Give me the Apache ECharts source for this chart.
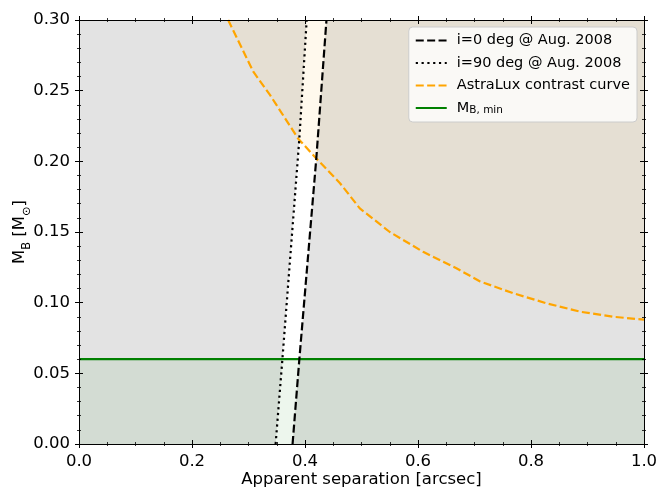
<!DOCTYPE html>
<html>
<head>
<meta charset="utf-8">
<script src="https://cdn.jsdelivr.net/npm/echarts@6/dist/echarts.min.js"></script>
<style>
html,body{margin:0;padding:0;background:#fff;}
#chart{width:661px;height:488px;}
</style>
</head>
<body>
<div id="chart"></div>
<script>
// ---- data ----
const xTickLabels = ['0.0', '0.2', '0.4', '0.6', '0.8', '1.0'];
const yTickLabels = ['0.00', '0.05', '0.10', '0.15', '0.20', '0.25', '0.30'];

// i=90 deg @ Aug. 2008 (dotted)
const incl90Sep  = [0.348, 0.360, 0.390, 0.403];
const incl90Mass = [0.000, 0.060, 0.216, 0.300];
// i=0 deg @ Aug. 2008 (dashed)
const incl0Sep  = [0.378, 0.390, 0.420, 0.438];
const incl0Mass = [0.000, 0.060, 0.202, 0.300];
// AstraLux contrast curve
const astraSep  = [0.264, 0.3085, 0.338, 0.388, 0.420, 0.462, 0.497, 0.550, 0.609, 0.668, 0.710, 0.769, 0.828, 0.887, 0.946, 1.000];
const astraMass = [0.300, 0.2634, 0.247, 0.216, 0.202, 0.1845, 0.1667, 0.150, 0.136, 0.1243, 0.115, 0.1066, 0.0995, 0.0936, 0.090, 0.088];
// minimum companion mass
const mbMinSep  = [0.0, 1.0];
const mbMinMass = [0.06, 0.06];

const seriesNames = ['i=0 deg @ Aug. 2008', 'i=90 deg @ Aug. 2008', 'AstraLux contrast curve', 'M_B,min'];

const zip = (a, b) => a.map((v, i) => [v, b[i]]);
const FONT = 'DejaVu Sans';

const G = {left: 79, top: 20, width: 565, height: 424};

function xAx(grid, pos, inside, labels) {
  return {
    type: 'value', gridIndex: grid, position: pos, min: 0, max: 1, interval: 0.2, z: 10,
    axisLine: {show: true, onZero: false, lineStyle: {color: '#000', width: 1}},
    axisTick: {show: true, inside: inside, length: 4, lineStyle: {color: '#000', width: 1}},
    minorTick: {show: true, splitNumber: 4, length: 2, lineStyle: {color: '#000', width: 0.8}},
    splitLine: {show: false}, minorSplitLine: {show: false},
    axisLabel: labels ? {show: true, margin: 9, color: '#000', fontFamily: FONT, fontSize: 16.5,
      formatter: v => xTickLabels[Math.round(v / 0.2)] } : {show: false},
    name: labels ? 'Apparent separation [arcsec]' : '',
    nameLocation: 'middle', nameGap: 27, nameMoveOverlap: false,
    nameTextStyle: {color: '#000', fontFamily: FONT, fontSize: 16.5}
  };
}
function yAx(grid, pos, inside, labels) {
  return {
    type: 'value', gridIndex: grid, position: pos, min: 0, max: 0.3, interval: 0.05, z: 10,
    axisLine: {show: true, onZero: false, lineStyle: {color: '#000', width: 1}},
    axisTick: {show: true, inside: inside, length: 4, lineStyle: {color: '#000', width: 1}},
    minorTick: {show: true, splitNumber: 5, length: 2, lineStyle: {color: '#000', width: 0.8}},
    splitLine: {show: false}, minorSplitLine: {show: false},
    axisLabel: labels ? {show: true, margin: 9, color: '#000', fontFamily: FONT, fontSize: 16.5,
      formatter: v => yTickLabels[Math.round(v / 0.05)] } : {show: false},
    name: labels ? '{n|M}{s|B}{n| [M}{s|⊙}{n|]}' : '',
    nameLocation: 'middle', nameGap: 46, nameRotate: 90, nameMoveOverlap: false,
    nameTextStyle: {color: '#000', fontFamily: FONT, fontSize: 16.5,
      rich: {
        n: {fontFamily: FONT, fontSize: 16.5, lineHeight: 22, verticalAlign: 'top', color: '#000'},
        s: {fontFamily: FONT, fontSize: 11.5, lineHeight: 12, verticalAlign: 'bottom', color: '#000'}
      }}
  };
}

const chart = echarts.init(document.getElementById('chart'), null, {renderer: 'canvas'});
chart.setOption({
  animation: false,
  backgroundColor: '#fff',
  grid: [
    Object.assign({show: true, backgroundColor: '#e3e3e3', borderWidth: 0, containLabel: false, outerBoundsMode: 'none'}, G),
    Object.assign({show: false, containLabel: false, outerBoundsMode: 'none'}, G)
  ],
  xAxis: [xAx(0, 'bottom', true, true), xAx(0, 'top', true, false), xAx(1, 'bottom', false, false), xAx(1, 'top', false, false)],
  yAxis: [yAx(0, 'left', true, true), yAx(0, 'right', true, false), yAx(1, 'left', false, false), yAx(1, 'right', false, false)],
  legend: {
    orient: 'vertical', right: 24, top: 27,
    padding: [6, 7, 6, 6], itemGap: 7.5, itemWidth: 31, itemHeight: 14,
    backgroundColor: 'rgba(255,255,255,0.8)', borderColor: '#cccccc', borderWidth: 1, borderRadius: 4,
    data: seriesNames,
    itemStyle: {opacity: 0},
    formatter: name => name === 'M_B,min' ? '{n|M}{s|B, min}' : '{n|' + name + '}',
    textStyle: {fontFamily: FONT, fontSize: 14.5, color: '#000', padding: [0, 0, 0, 5],
      rich: {
        n: {fontFamily: FONT, fontSize: 14.5, color: '#000', lineHeight: 16},
        s: {fontFamily: FONT, fontSize: 10.5, color: '#000', lineHeight: 10, verticalAlign: 'bottom'}
      }}
  },
  series: [
    {
      type: 'custom', xAxisIndex: 0, yAxisIndex: 0, silent: true, z: 1,
      data: [[0.39, 0.15]],
      renderItem: (params, api) => {
        const pts = zip(incl90Sep, incl90Mass).map(p => api.coord(p))
          .concat(zip(incl0Sep, incl0Mass).reverse().map(p => api.coord(p)));
        return {type: 'polygon', shape: {points: pts}, style: {fill: '#ffffff'}};
      }
    },
    {
      name: seriesNames[2], type: 'line', xAxisIndex: 0, yAxisIndex: 0, z: 3,
      data: zip(astraSep, astraMass), symbol: 'circle', showSymbol: false, smooth: false,
      lineStyle: {color: '#ffa500', width: 2.2, type: [8, 3.4]},
      itemStyle: {color: '#ffa500'},
      areaStyle: {origin: 'end', color: 'rgba(255,165,0,0.1)'}
    },
    {
      name: seriesNames[3], type: 'line', xAxisIndex: 0, yAxisIndex: 0, z: 3,
      data: zip(mbMinSep, mbMinMass), symbol: 'circle', showSymbol: false,
      lineStyle: {color: '#008000', width: 2.2},
      itemStyle: {color: '#008000'},
      areaStyle: {origin: 'start', color: 'rgba(0,128,0,0.1)'}
    },
    {
      name: seriesNames[0], type: 'line', xAxisIndex: 0, yAxisIndex: 0, z: 4,
      data: zip(incl0Sep, incl0Mass), symbol: 'circle', showSymbol: false,
      lineStyle: {color: '#000', width: 2.2, type: [8, 3.4]},
      itemStyle: {color: '#000'}
    },
    {
      name: seriesNames[1], type: 'line', xAxisIndex: 0, yAxisIndex: 0, z: 4,
      data: zip(incl90Sep, incl90Mass), symbol: 'circle', showSymbol: false,
      lineStyle: {color: '#000', width: 2.2, type: [2.2, 3.6]},
      itemStyle: {color: '#000'}
    }
  ]
});
</script>
</body>
</html>
